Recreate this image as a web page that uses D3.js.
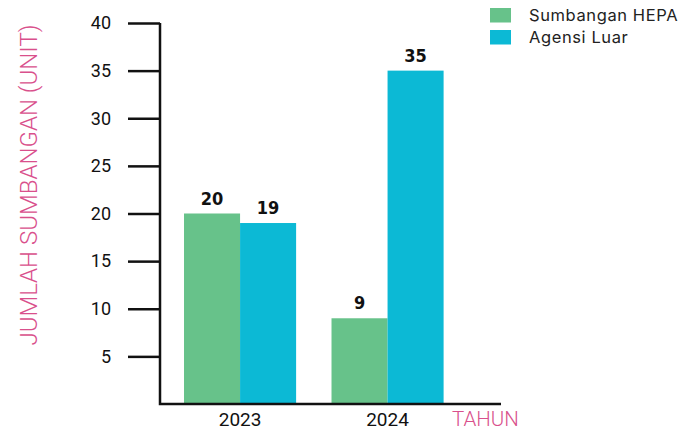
<!DOCTYPE html>
<html>
<head>
<meta charset="utf-8">
<script src="https://cdn.jsdelivr.net/npm/d3@7"></script>
<style>
  html, body { margin: 0; padding: 0; background: #fff; }
  svg { display: block; }
</style>
</head>
<body>
<svg id="chart" width="687" height="431"></svg>
<script>
// Tahun dan siri sumbangan
const years = ["2023", "2024"];
const seriesNames = ["Sumbangan HEPA", "Agensi Luar"];
const hepaValues = [20, 9];
const luarValues = [19, 35];
const yTicks = [5, 10, 15, 20, 25, 30, 35, 40];
const seriesColors = ["#67c28a", "#0cb9d5"];

const svg = d3.select("#chart");
const axisX = 160, axisBottom = 404, axisTop = 23, axisRight = 501;

const y = d3.scaleLinear().domain([0, 40]).range([axisBottom, axisTop]);
const x = d3.scaleBand().domain(years).range([axisX, axisRight])
  .paddingInner(0.24).paddingOuter(0.276).align(0.295);
const xs = d3.scaleBand().domain(seriesNames).range([0, x.bandwidth()]);

const rows = years.map((yr, i) => ({
  year: yr,
  values: [
    { name: seriesNames[0], value: hepaValues[i], color: seriesColors[0] },
    { name: seriesNames[1], value: luarValues[i], color: seriesColors[1] }
  ]
}));

// Bars
const groups = svg.append("g").selectAll("g").data(rows).join("g")
  .attr("transform", d => `translate(${x(d.year)},0)`);
groups.selectAll("rect").data(d => d.values).join("rect")
  .attr("x", d => xs(d.name))
  .attr("width", xs.bandwidth())
  .attr("y", d => y(d.value))
  .attr("height", d => axisBottom - y(d.value))
  .attr("fill", d => d.color);

// Value labels
groups.selectAll("text").data(d => d.values).join("text")
  .attr("x", d => xs(d.name) + xs.bandwidth() / 2)
  .attr("y", d => y(d.value) - 9)
  .attr("text-anchor", "middle")
  .attr("font-family", "'DejaVu Sans Condensed', 'DejaVu Sans', sans-serif")
  .attr("font-stretch", "condensed")
  .attr("font-weight", "bold")
  .attr("font-size", 18)
  .attr("fill", "#111")
  .text(d => d.value);

// Y axis
const yAxis = d3.axisLeft(y).tickValues(yTicks).tickSize(32).tickPadding(17);
const gy = svg.append("g").attr("transform", `translate(${axisX},0)`).call(yAxis);
gy.select(".domain").remove();
gy.selectAll(".tick line").attr("stroke", "#111").attr("stroke-width", 2.5);
gy.selectAll(".tick text")
  .attr("font-family", "Roboto, sans-serif")
  .attr("font-size", 18)
  .attr("fill", "#111");

// Axis lines
svg.append("path")
  .attr("d", `M${axisX},${axisTop}V${axisBottom}H${axisRight}`)
  .attr("fill", "none").attr("stroke", "#111").attr("stroke-width", 2.5);

// X labels
svg.append("g").selectAll("text").data(years).join("text")
  .attr("x", d => x(d) + x.bandwidth() / 2)
  .attr("y", 426)
  .attr("text-anchor", "middle")
  .attr("font-family", "Roboto, sans-serif")
  .attr("font-size", 19)
  .attr("fill", "#111")
  .text(d => d);

// Axis titles
svg.append("text")
  .attr("x", 452).attr("y", 426)
  .attr("font-family", "Roboto, sans-serif")
  .attr("font-weight", 300)
  .attr("font-size", 20.5)
  .attr("fill", "#d9508c")
  .text("TAHUN");

svg.append("text")
  .attr("transform", "translate(37,185) rotate(-90)")
  .attr("text-anchor", "middle")
  .attr("font-family", "Roboto, sans-serif")
  .attr("font-weight", 300)
  .attr("font-size", 24)
  .attr("fill", "#d9508c")
  .text("JUMLAH SUMBANGAN (UNIT)");

// Legend
const legend = svg.append("g").selectAll("g").data(seriesNames).join("g")
  .attr("transform", (d, i) => `translate(490,${8 + i * 22})`);
legend.append("rect").attr("width", 21).attr("height", 14.5)
  .attr("fill", (d, i) => seriesColors[i]);
legend.append("text").attr("x", 39).attr("y", 13)
  .attr("font-family", "Inter, sans-serif")
  .attr("font-size", 16.5)
  .attr("letter-spacing", 0.6)
  .attr("fill", "#222")
  .text(d => d);
</script>
</body>
</html>
